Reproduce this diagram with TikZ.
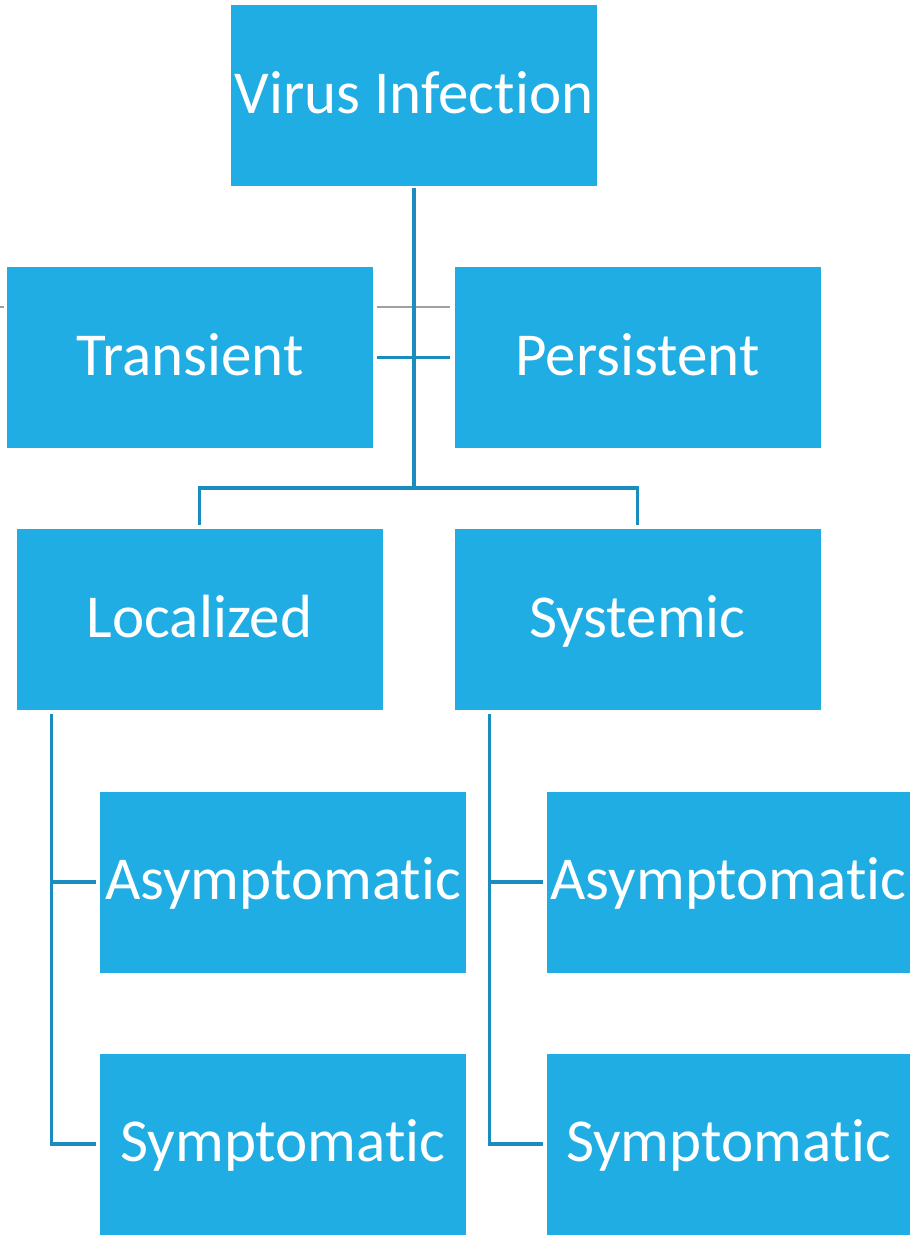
\documentclass[tikz,border=0pt]{standalone}
\usepackage{fontspec}
\setmainfont{Carlito}[Ligatures=NoCommon,RawFeature={-liga;-clig}]
\definecolor{boxblue}{HTML}{1FADE3}
\definecolor{linkblue}{HTML}{1B8CBE}
\definecolor{thingray}{HTML}{A0A0A0}
\begin{document}
\begin{tikzpicture}[x=1pt,y=-1pt,
  box/.style={fill=boxblue,draw=none,inner sep=0pt,minimum width=366pt,minimum height=181pt,
    text height=48pt,text depth=13pt,
    text=white,font=\fontsize{61}{72}\selectfont},
  conn/.style={draw=linkblue,line width=3.4pt},
  thin/.style={draw=thingray,line width=1.4pt}]
\useasboundingbox (0,0) rectangle (910,1239);
\node[box] (vi) at (414,95.5) {Virus Infection};
\node[box] (tr) at (190,357.5) {Transient};
\node[box] (pe) at (637.5,357.5) {Persistent};
\node[box] (lo) at (199.5,619.5) {Localized};
\node[box] (sy) at (637.5,619.5) {Systemic};
\node[box] (al) at (283,882) {Asymptomatic};
\node[box] (sl) at (283,1144) {Symptomatic};
\node[box,minimum width=363pt] (ar) at (728.5,882) {Asymptomatic};
\node[box,minimum width=363pt] (sr) at (728.5,1144) {Symptomatic};
\coordinate (bus) at (414,488);
% connectors
\draw[thin] ([xshift=4pt,yshift=-40pt]tr.north east) -- ([xshift=-4pt,yshift=-40pt]pe.north west);
\draw[thin] ([xshift=-7pt,yshift=-40pt]tr.north west) -- ([xshift=-3pt,yshift=-40pt]tr.north west);
\draw[conn] ([yshift=-2pt]vi.south) -- (bus);
\draw[conn] ([xshift=4pt]tr.east) -- ([xshift=-4pt]pe.west);
\draw[conn] ([yshift=4pt]lo.north) |- (bus) -| ([yshift=4pt]sy.north);
\draw[conn] ([xshift=35pt,yshift=-4pt]lo.south west) |- ([xshift=-4pt]sl.west);
\draw[conn] ([xshift=35pt]lo.south west |- al.west) -- ([xshift=-4pt]al.west);
\draw[conn] ([xshift=35pt,yshift=-4pt]sy.south west) |- ([xshift=-4pt]sr.west);
\draw[conn] ([xshift=35pt]sy.south west |- ar.west) -- ([xshift=-4pt]ar.west);
\end{tikzpicture}
\end{document}
